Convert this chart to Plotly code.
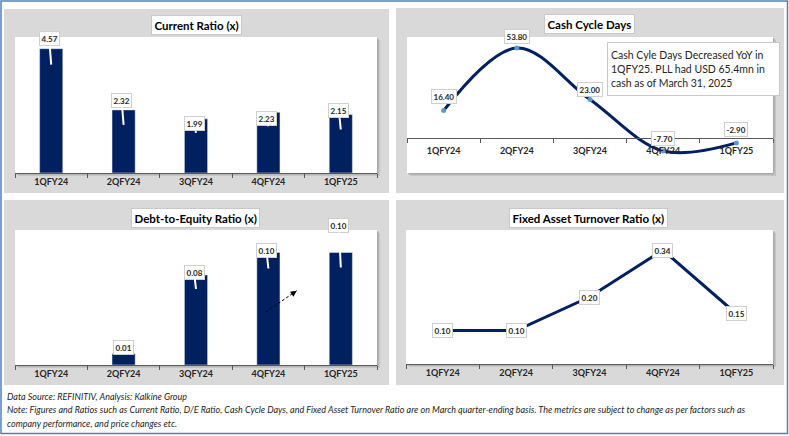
import plotly.graph_objects as go

W, H = 789, 436

# ---------------- data ----------------
quarters = ["1QFY24", "2QFY24", "3QFY24", "4QFY24", "1QFY25"]
current_ratio = [4.57, 2.32, 1.99, 2.23, 2.15]
cash_cycle_days = [16.40, 53.80, 23.00, -7.70, -2.90]
debt_to_equity = [0.00, 0.01, 0.08, 0.10, 0.10]
fixed_asset_turnover = [0.10, 0.10, 0.20, 0.34, 0.15]

titles = ["Current Ratio (x)", "Cash Cycle Days",
          "Debt-to-Equity Ratio (x)", "Fixed Asset Turnover Ratio (x)"]
cash_note = ("Cash Cyle Days Decreased YoY in<br>"
             "1QFY25. PLL had USD 65.4mn in<br>"
             "cash as of March 31, 2025")
source_text = "Data Source: REFINITIV, Analysis: Kalkine Group"
note_line1 = ("Note: Figures and Ratios such as Current Ratio, D/E Ratio, Cash Cycle Days, "
              "and Fixed Asset Turnover Ratio are on March quarter-ending basis. The metrics "
              "are subject to change as per factors such as")
note_line2 = "company performance, and price changes etc."

# ---------------- style / layout ----------------
NAVY = "#002060"
GRAY_BG = "#d9d9d9"
AXIS = "#595959"
TXT = "#262626"
FONT = "Lato, 'Open Sans', sans-serif"


def px(x):
    return x / W


def py(y):
    return 1 - y / H


panels = [
    dict(gray=(4, 9, 389, 193), plot=(15, 37, 377, 173), title=(196.5, 25)),
    dict(gray=(396, 8, 784, 193), plot=(407, 37, 773, 173), title=(589.5, 24.5)),
    dict(gray=(4, 200, 389, 385), plot=(15, 230, 377, 365), title=(195, 218)),
    dict(gray=(396, 200, 784, 385), plot=(406, 230, 773, 364), title=(588.5, 217.5)),
]
yranges = [[0, 5.0], [-20.9, 60.4], [0, 0.12], [0, 0.40]]

# label offsets (pixels): (text centre above point, pointer tip below point)
cr_offsets = [(10, 16), (9.5, 15), (-5, 14), (-6, 14), (4, 15)]
cc_offsets = [14, 12, 10.5, 12, 13]
de_offsets = [(0, 0), (6.5, 0), (3, 14), (2, 16), (27, 15)]

fig = go.Figure()

fig.add_trace(go.Bar(x=quarters, y=current_ratio, marker_color=NAVY, width=0.32,
                     xaxis="x", yaxis="y", hoverinfo="skip"))
fig.add_trace(go.Scatter(x=quarters, y=cash_cycle_days, mode="lines+markers",
                         line=dict(color=NAVY, width=3, shape="spline", smoothing=1.0),
                         marker=dict(size=5, color="#5b9bd5"),
                         xaxis="x2", yaxis="y2", hoverinfo="skip"))
fig.add_trace(go.Bar(x=quarters, y=debt_to_equity, marker_color=NAVY, width=0.32,
                     xaxis="x3", yaxis="y3", hoverinfo="skip"))
fig.add_trace(go.Scatter(x=quarters, y=fixed_asset_turnover, mode="lines",
                         line=dict(color=NAVY, width=3),
                         xaxis="x4", yaxis="y4", hoverinfo="skip"))

shapes = []
annotations = []

for i, p in enumerate(panels):
    gx0, gy0, gx1, gy1 = p["gray"]
    shapes.append(dict(type="rect", xref="paper", yref="paper", layer="below",
                       x0=px(gx0), x1=px(gx1), y0=py(gy1), y1=py(gy0),
                       fillcolor=GRAY_BG, line=dict(width=0)))
    x0, y0, x1, y1 = p["plot"]
    for off, col in ((3, "#c4c4c4"), (1.5, "#a9a9a9")):
        shapes.append(dict(type="rect", xref="paper", yref="paper", layer="below",
                           x0=px(x0 + off), x1=px(x1 + off), y0=py(y1 + off), y1=py(y0 + off),
                           fillcolor=col, line=dict(width=0)))
    shapes.append(dict(type="rect", xref="paper", yref="paper", layer="below",
                       x0=px(x0), x1=px(x1), y0=py(y1), y1=py(y0),
                       fillcolor="white", line=dict(width=0)))
    cx, cy = p["title"]
    annotations.append(dict(xref="paper", yref="paper", x=px(cx), y=py(cy),
                            xanchor="center", yanchor="middle", showarrow=False,
                            text="<b>%s</b>" % titles[i],
                            font=dict(family=FONT, size=11.5, color="black"),
                            bgcolor="white", bordercolor="#c8c8c8", borderwidth=1,
                            borderpad=2.5))

    sfx = "" if i == 0 else str(i + 1)
    common_x = dict(type="category", range=[-0.5, 4.5], showline=True, linecolor=AXIS,
                    linewidth=1, ticks="outside", tickson="boundaries", ticklen=4,
                    tickcolor=AXIS, showgrid=False, zeroline=False, fixedrange=True,
                    tickfont=dict(family=FONT, size=9, color=TXT, weight="bold"),
                    domain=[px(x0), px(x1)])
    ydom = [py(y1), py(y0)]
    if i == 1:
        r0, r1 = yranges[i]
        pos = ydom[0] + (0 - r0) / (r1 - r0) * (ydom[1] - ydom[0])
        common_x.update(anchor="free", position=pos, ticklabelstandoff=4)
    else:
        common_x.update(anchor="y" + sfx)
    fig.update_layout(**{
        "xaxis" + sfx: common_x,
        "yaxis" + sfx: dict(range=yranges[i], domain=ydom, visible=False,
                            showgrid=False, zeroline=False, fixedrange=True,
                            anchor="x" + sfx),
    })

label_font = dict(family=FONT, size=8, color=TXT, weight="bold")


def value_label(xref, yref, q, v, dy_text, dy_tip):
    a = dict(xref=xref, yref=yref, x=q, y=v, text="%.2f" % v, font=label_font,
             bgcolor="white", bordercolor="#cfcfcf", borderwidth=1, borderpad=1.5)
    if dy_tip > 0:
        a.update(showarrow=True, arrowhead=0, arrowwidth=2, arrowcolor="white",
                 ax=-2, ay=-(dy_tip + dy_text), yshift=-dy_tip, standoff=0)
    else:
        a.update(showarrow=False, yshift=dy_text)
    return a


for q, v, (dt, dp) in zip(quarters, current_ratio, cr_offsets):
    annotations.append(value_label("x", "y", q, v, dt, dp))
for q, v, dt in zip(quarters, cash_cycle_days, cc_offsets):
    annotations.append(value_label("x2", "y2", q, v, dt, 0))
for q, v, (dt, dp) in zip(quarters, debt_to_equity, de_offsets):
    if v > 0:
        annotations.append(value_label("x3", "y3", q, v, dt, dp))
for q, v in zip(quarters, fixed_asset_turnover):
    annotations.append(value_label("x4", "y4", q, v, 0, 0))

# cash-cycle commentary box
annotations.append(dict(xref="paper", yref="paper", x=px(693.5), y=py(69),
                        xanchor="center", yanchor="middle", showarrow=False,
                        text=cash_note, align="left", width=165, height=46,
                        font=dict(family=FONT, size=10.5, color=TXT),
                        bgcolor="white", bordercolor="#c8c8c8", borderwidth=1,
                        borderpad=3))

# dashed trend arrow in D/E panel (category-index coordinates)
arrow_tail = (2.96, 0.047)
arrow_head = (3.39, 0.066)
shapes.append(dict(type="line", xref="x3", yref="y3",
                   x0=arrow_tail[0], y0=arrow_tail[1], x1=arrow_head[0], y1=arrow_head[1],
                   line=dict(color="black", width=1, dash="3px,2px")))
annotations.append(dict(xref="x3", yref="y3", x=arrow_head[0], y=arrow_head[1],
                        ax=-6.5, ay=4.6, text="", showarrow=True, arrowhead=2,
                        arrowsize=1, arrowwidth=1.2, arrowcolor="black"))

# footer
foot_font = dict(family=FONT, size=9, color=TXT, style="italic")
for txt, yy in ((source_text, 396.5), (note_line1, 409.5), (note_line2, 423)):
    annotations.append(dict(xref="paper", yref="paper", x=px(5), y=py(yy),
                            xanchor="left", yanchor="middle", showarrow=False,
                            text=txt, font=foot_font))

# outer blue frame
shapes.append(dict(type="rect", xref="paper", yref="paper",
                   x0=px(1), x1=px(787.5), y0=py(433.5), y1=py(1),
                   line=dict(color="#4f81bd", width=1.5), fillcolor="rgba(0,0,0,0)"))

fig.update_layout(width=W, height=H, margin=dict(l=0, r=0, t=0, b=0),
                  paper_bgcolor="white", plot_bgcolor="rgba(0,0,0,0)",
                  showlegend=False, shapes=shapes, annotations=annotations,
                  font=dict(family=FONT))

fig.write_html("out.html", config={"displayModeBar": False},
               post_script="document.body.style.margin='0px';"
                           "document.body.style.padding='0px';"
                           "document.body.style.overflow='hidden';")
